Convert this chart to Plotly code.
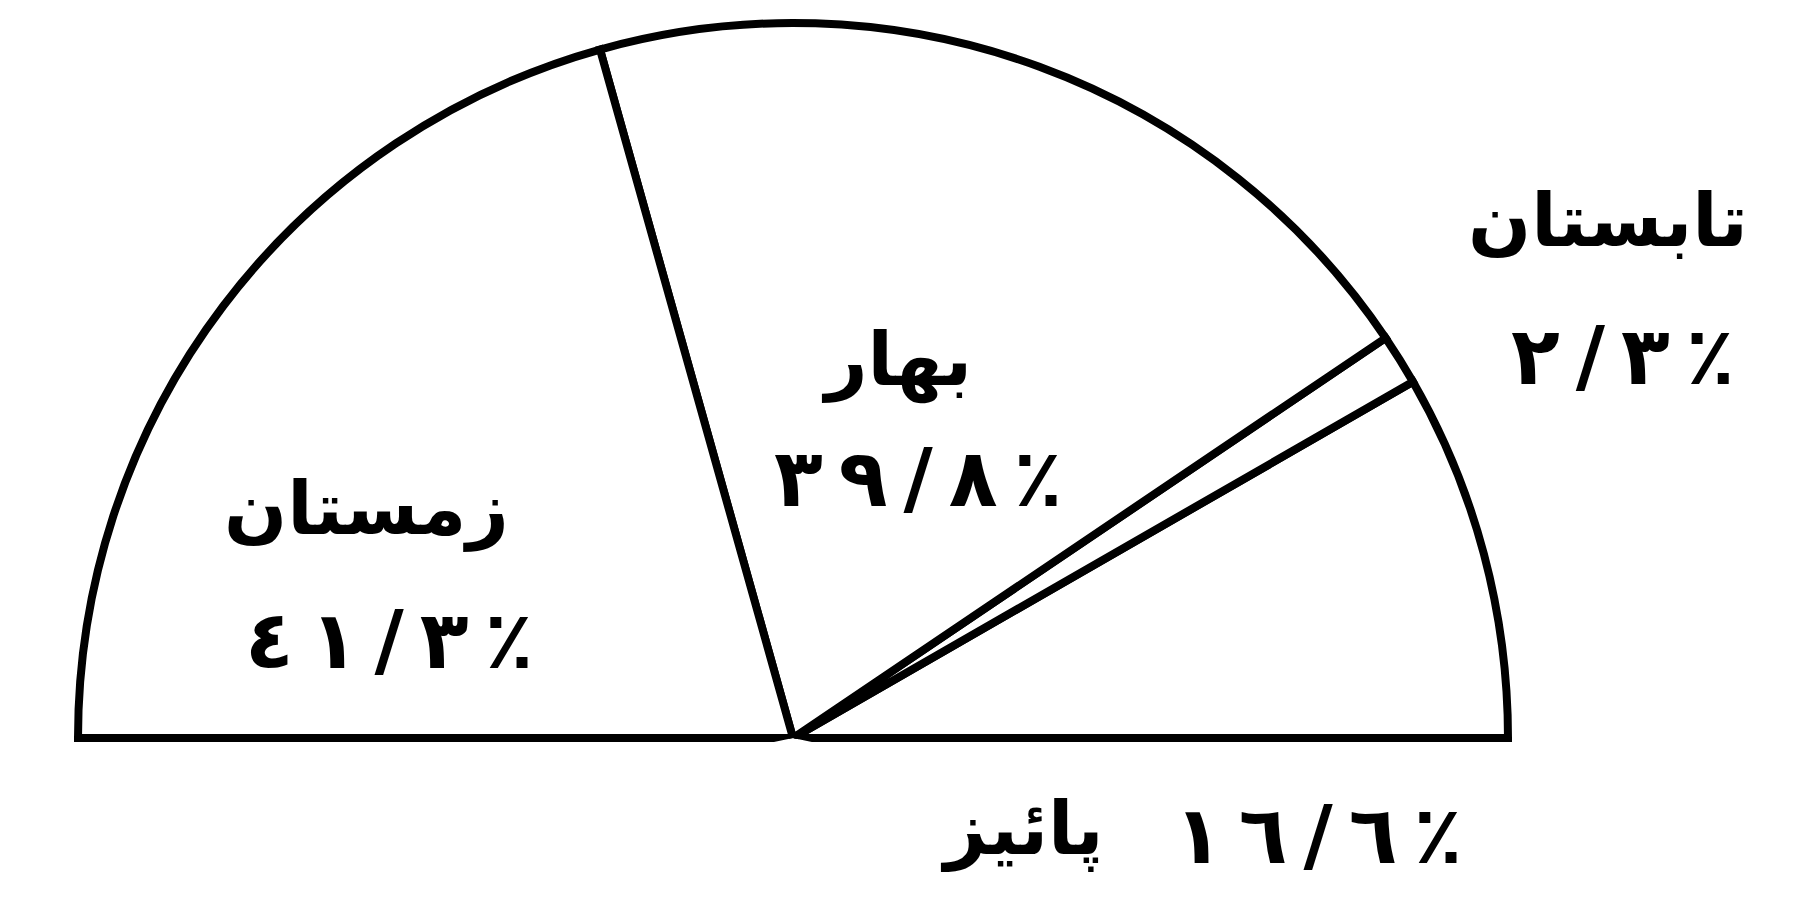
import math
import plotly.graph_objects as go

# فصل‌ها و سهم هر کدام (درصد)
seasons = ["پائیز", "تابستان", "بهار", "زمستان"]
shares = [16.6, 2.3, 39.8, 41.3]

W, H = 1814, 918
FONT = "DejaVu Sans"
AR_DIGITS = str.maketrans("0123456789", "٠١٢٣٤٥٦٧٨٩")
LRM = "\u200e"


def fa_num(v):
    # 41.3 -> ٤ ١ / ٣ ٪ (spaced out, kept left-to-right with LRM marks)
    chars = list(f"{v:.1f}".replace(".", "/").translate(AR_DIGITS)) + ["٪"]
    return (LRM + "\u2009" + LRM).join(chars)


# half circle: 100% spread over 180 degrees
widths = [s * 180 / sum(shares) for s in shares]
mids = []
acc = 0
for w in widths:
    mids.append(acc + w / 2)
    acc += w

fig = go.Figure()
fig.add_trace(go.Barpolar(
    r=[1] * len(shares),
    theta=mids,
    width=widths,
    text=seasons,
    customdata=shares,
    marker=dict(color="white", line=dict(color="black", width=8)),
    hovertemplate="%{text}: %{customdata}%<extra></extra>",
))

# polar geometry in page pixels: centre of the half disc, its radius
cx, cy, rad = 785, 730, 715
r_max = 1.012          # a little room so the outline is not clipped
pad = 12               # sector opened a few degrees so the base line shows whole
rax = rad * r_max
dom_x = [(cx - rax) / W, (cx + rax) / W]
dom_y = [1 - (cy + rax * math.sin(math.radians(pad))) / H, 1 - (cy - rax) / H]

# label placement (pixels in the 1814x918 page)
name_pos = {"زمستان": (358, 500), "بهار": (888, 352), "تابستان": (1600, 212), "پائیز": (1014, 820)}
num_pos = {"زمستان": (381, 632), "بهار": (910, 470), "تابستان": (1615, 348), "پائیز": (1310, 827)}

annotations = []
for name, val in zip(seasons, shares):
    for txt, (px, py), size in ((name, name_pos[name], 74), (fa_num(val), num_pos[name], 80)):
        annotations.append(dict(
            text=txt, x=px / W, y=1 - py / H, xref="paper", yref="paper",
            xanchor="center", yanchor="middle", showarrow=False,
            font=dict(family=FONT, size=size, color="black", weight="bold"),
        ))

fig.update_layout(
    width=W, height=H,
    margin=dict(l=0, r=0, t=0, b=0),
    paper_bgcolor="white",
    plot_bgcolor="white",
    showlegend=False,
    annotations=annotations,
    polar=dict(
        sector=[-pad, 180 + pad],
        domain=dict(x=dom_x, y=dom_y),
        bgcolor="white",
        radialaxis=dict(visible=False, range=[0, r_max]),
        angularaxis=dict(visible=False, rotation=0, direction="counterclockwise"),
        bargap=0,
    ),
)

fig.write_html("out.html")
